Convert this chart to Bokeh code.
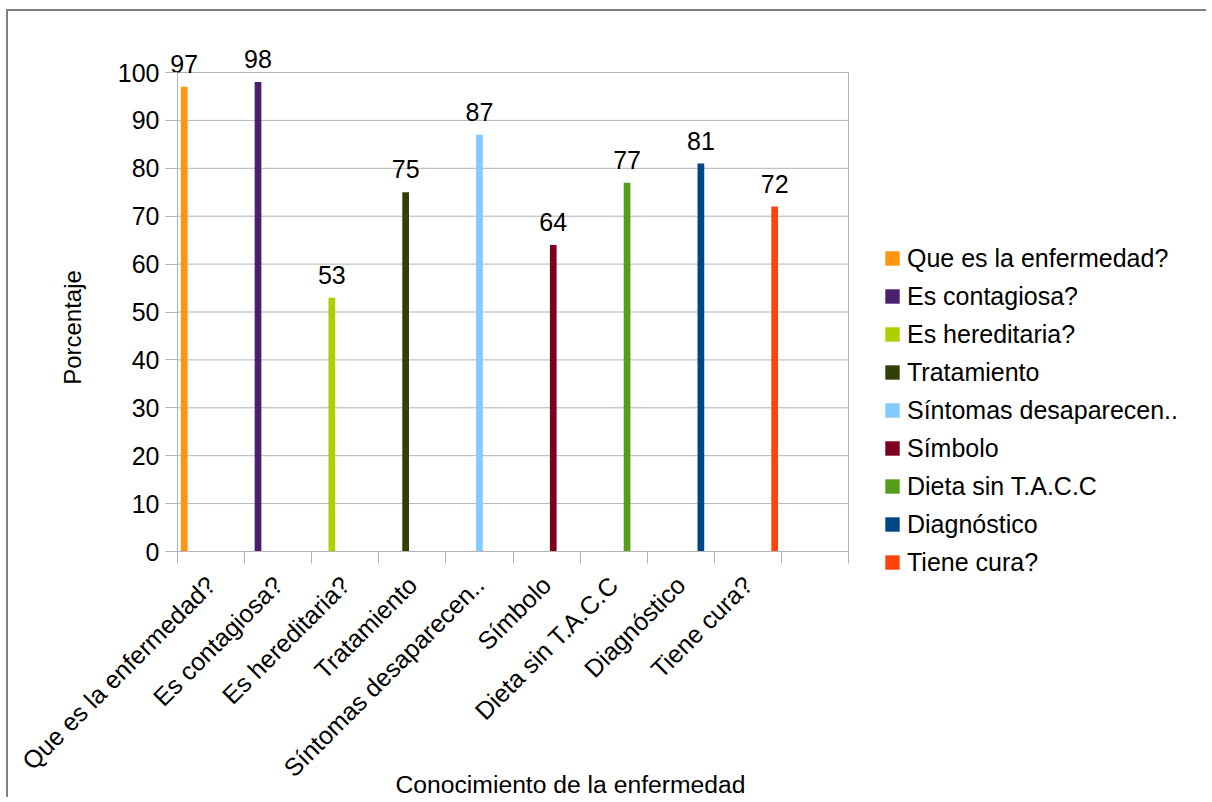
import math
from bokeh.plotting import figure
from bokeh.models import Range1d, FixedTicker, Legend, LegendItem, Label
from bokeh.core.properties import value
from bokeh.embed import file_html
from bokeh.resources import INLINE

# ---- data ----
categories = ["Que es la enfermedad?", "Es contagiosa?", "Es hereditaria?", "Tratamiento",
              "Síntomas desaparecen..", "Símbolo", "Dieta sin T.A.C.C", "Diagnóstico", "Tiene cura?"]
values = [97, 98, 53, 75, 87, 64, 77, 81, 72]
colors = ["#ff950e", "#4b1f6f", "#aecf00", "#314004", "#83caff", "#7e0021", "#579d1c", "#004586", "#ff420e"]
y_ticks = list(range(0, 101, 10))
x_title = "Conocimiento de la enfermedad"
y_title = "Porcentaje"

FONT = "Liberation Sans"
GRID = "#b3b3b3"
FS = "25px"

n = len(categories)
n_slots = n + 1           # the chart has one extra empty category at the end
group = 0.9               # share of a category occupied by the series group
slot = group / n          # width of one series slot

# ---- layout (page pixels) ----
W, H = 1200, 788
OX, OY = 8, 11                       # canvas origin on the page
AREA_L, AREA_R = 177, 848            # plot area (x = 0 .. n_slots)
AREA_T, AREA_B = 72, 551             # plot area (y = 0 .. 100)
cat_px = (AREA_R - AREA_L) / n_slots
unit_px = (AREA_B - AREA_T) / y_ticks[-1]
x_start = -(AREA_L - OX) / cat_px
x_end = n_slots + ((OX + W) - AREA_R) / cat_px
y_start = -((OY + H) - AREA_B) / unit_px
y_end = (AREA_B - OY) / unit_px

p = figure(width=W, height=H, output_backend="svg", toolbar_location=None,
           x_range=Range1d(x_start, x_end), y_range=Range1d(y_start, y_end),
           min_border_left=0, min_border_right=0, min_border_top=0, min_border_bottom=0)
p.styles = {"margin-left": "6px", "margin-top": "9px",
            "border-top": "2px solid #808080", "border-left": "2px solid #808080"}
p.background_fill_color = "white"
p.border_fill_color = "white"
p.outline_line_color = None
p.xgrid.grid_line_color = None
p.ygrid.grid_line_color = None

# horizontal grid lines and right border, limited to the plot area
p.segment(x0=[0] * len(y_ticks), y0=y_ticks, x1=[n_slots] * len(y_ticks), y1=y_ticks,
          line_color=GRID, line_width=1, level="underlay")
p.segment(x0=[n_slots], y0=[y_ticks[0]], x1=[n_slots], y1=[y_ticks[-1]],
          line_color=GRID, line_width=1, level="underlay")

# y axis at x = 0
p.yaxis.fixed_location = 0
p.yaxis.ticker = FixedTicker(ticks=y_ticks)
p.yaxis.bounds = (y_ticks[0], y_ticks[-1])
p.yaxis.axis_line_color = GRID
p.yaxis.major_tick_line_color = GRID
p.yaxis.major_tick_in = 0
p.yaxis.major_tick_out = 12
p.yaxis.minor_tick_line_color = None
p.yaxis.major_label_text_font = FONT
p.yaxis.major_label_text_font_size = FS
p.yaxis.major_label_text_color = "black"
p.yaxis.major_label_standoff = 6

# x axis at y = 0: labels at category centres, ticks at category boundaries
centers = [i + 0.5 for i in range(n)]
p.xaxis.fixed_location = 0
p.xaxis.ticker = FixedTicker(ticks=centers, minor_ticks=list(range(n_slots + 1)))
p.xaxis.bounds = (0, n_slots)
p.xaxis.major_label_overrides = {c: lab for c, lab in zip(centers, categories)}
p.xaxis.major_label_orientation = math.pi / 4
p.xaxis.axis_line_color = GRID
p.xaxis.major_tick_line_color = None
p.xaxis.major_tick_in = 0
p.xaxis.major_tick_out = 12
p.xaxis.minor_tick_line_color = GRID
p.xaxis.minor_tick_in = 0
p.xaxis.minor_tick_out = 12
p.xaxis.major_label_text_font = FONT
p.xaxis.major_label_text_font_size = FS
p.xaxis.major_label_text_color = "black"
p.xaxis.major_label_standoff = 17

# bars: each series sits in its own category, in its own slot of the group
label_gap = 10 / unit_px
items = []
for i, (cat, v, c) in enumerate(zip(categories, values, colors)):
    x = i + (1 - group) / 2 + (i + 0.5) * slot
    r = p.vbar(x=[x], top=[v], width=slot, fill_color=c, line_color=None)
    items.append(LegendItem(label=cat, renderers=[r]))
    p.text(x=[x], y=[v + label_gap], text=[str(v)], text_align="center",
           text_baseline="alphabetic", y_offset=-13, text_font=value(FONT),
           text_font_size=FS, text_color="black")

legend = Legend(items=items, location=(883 - OX, (OY + H) - 576.5), orientation="vertical",
                glyph_width=18, glyph_height=18, label_standoff=6, spacing=9,
                padding=0, margin=0, border_line_color=None, background_fill_alpha=0,
                label_text_font=FONT, label_text_font_size=FS, label_text_color="black")
p.add_layout(legend, "center")

# axis titles
p.add_layout(Label(x=(72 - AREA_L) / cat_px, y=(AREA_B - 327) / unit_px, text=y_title,
                   angle=math.pi / 2, text_align="center", text_baseline="alphabetic",
                   text_font=FONT, text_font_size="24px", text_color="black"))
p.add_layout(Label(x=(395 - AREA_L) / cat_px, y=-(784 - AREA_B) / unit_px, text=x_title,
                   text_align="left", text_baseline="alphabetic",
                   text_font=FONT, text_font_size="24.7px", text_color="black"))

open("out.html", "w").write(file_html(p, INLINE))
